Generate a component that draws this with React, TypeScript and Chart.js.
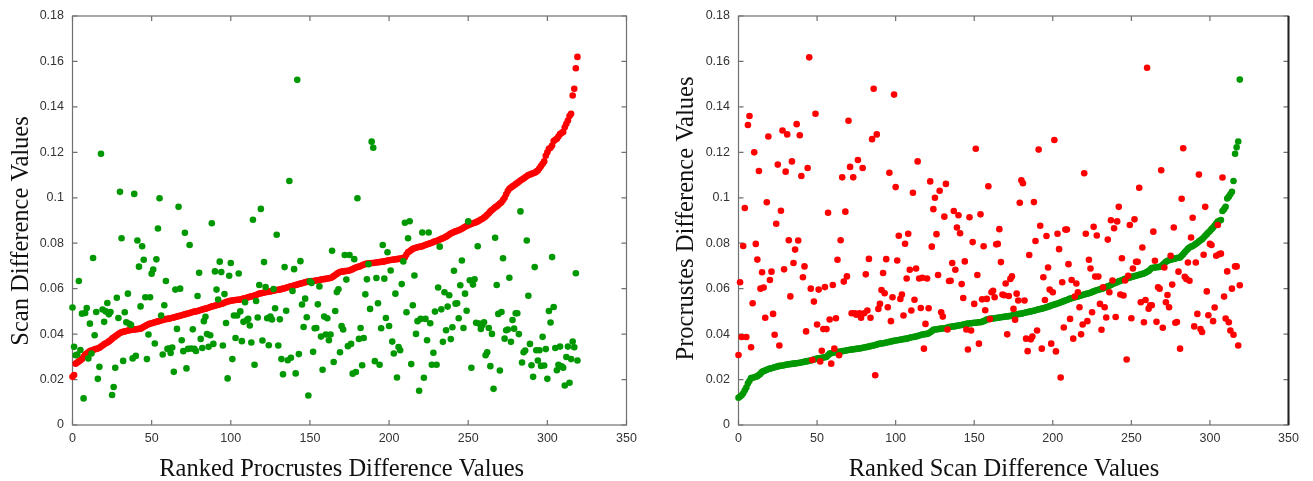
import React, { useEffect, useRef } from 'react';
import { Chart, registerables } from 'chart.js';

Chart.register(...registerables);

// ---------- tick values / labels ----------
const xTickValues = [0, 50, 100, 150, 200, 250, 300, 350];
const xTickLabels = ['0', '50', '100', '150', '200', '250', '300', '350'];
const yTickValues = [0, 0.02, 0.04, 0.06, 0.08, 0.1, 0.12, 0.14, 0.16, 0.18];
const yTickLabels = ['0', '0.02', '0.04', '0.06', '0.08', '0.1', '0.12', '0.14', '0.16', '0.18'];

const leftXTitle = 'Ranked Procrustes Difference Values';
const leftYTitle = 'Scan Difference Values';
const rightXTitle = 'Ranked Scan Difference Values';
const rightYTitle = 'Procrustes Difference Values';

// ---------- left chart: ranked by Procrustes ----------
const procrustesRanked = [
  .0212,.022,.027,.0275,.028,.0285,.029,.030,.031,.0315,
  .032,.0325,.0328,.033,.0333,.0335,.0337,.034,.0345,.035,
  .0355,.036,.0363,.0368,.0373,.038,.0385,.039,.0395,.040,
  .0405,.0408,.041,.0412,.0414,.0416,.0417,.0418,.0419,.042,
  .0421,.0422,.0423,.0424,.0428,.0432,.0436,.044,.0443,.0446,
  .0448,.045,.0452,.0454,.0456,.0458,.046,.0462,.0464,.0466,
  .0467,.0468,.047,.0472,.0473,.0475,.0477,.0479,.0481,.0483,
  .0485,.0487,.0489,.0491,.0493,.0495,.0497,.0499,.05,.0502,
  .0504,.0506,.0508,.051,.0512,.0514,.0516,.0519,.0521,.0523,
  .0525,.0527,.0529,.0531,.0533,.0535,.0538,.0541,.0543,.0545,
  .0547,.0548,.0549,.055,.0551,.0551,.0552,.0554,.0556,.0558,
  .056,.0562,.0564,.0566,.0568,.057,.0572,.0575,.0578,.058,
  .0581,.0583,.0584,.0586,.0587,.0588,.059,.0591,.0593,.0594,
  .0595,.0596,.0598,.06,.0602,.0604,.0606,.0608,.061,.0612,
  .0614,.0616,.0618,.062,.0622,.0624,.0626,.0628,.063,.0631,
  .0632,.0633,.0634,.0635,.0636,.0637,.0638,.064,.0641,.0642,
  .0643,.0645,.0646,.0647,.065,.0655,.066,.0665,.067,.0673,
  .0675,.0676,.0677,.0678,.0679,.068,.0683,.0686,.069,.0693,
  .0695,.0697,.07,.0703,.0706,.0708,.071,.0711,.0712,.0713,
  .0713,.0714,.0715,.0716,.0717,.0718,.0719,.072,.0722,.0724,
  .0725,.0726,.0727,.0728,.0729,.073,.0731,.0732,.0734,.0736,
  .0738,.075,.076,.0765,.077,.0775,.0778,.078,.0782,.0784,
  .0785,.0787,.079,.0792,.0795,.0797,.08,.0802,.0805,.0808,
  .081,.0813,.0816,.0819,.0822,.0825,.0829,.0833,.0838,.0843,
  .0846,.0849,.0852,.0855,.0857,.086,.0864,.0868,.0872,.0876,
  .0879,.0882,.0885,.0888,.089,.0892,.0896,.09,.0904,.0908,
  .0913,.0918,.0925,.0932,.094,.0946,.0952,.0958,.0962,.0968,
  .0975,.098,.099,.1,.1015,.103,.104,.1045,.105,.1055,
  .106,.1065,.107,.1076,.108,.1085,.109,.1095,.110,.1102,
  .1105,.1108,.111,.1115,.112,.113,.114,.115,.116,.1185,
  .12,.1216,.122,.123,.125,.1255,.126,.127,.128,.1285,
  .129,.131,.1326,.134,.136,.137,.145,.148,.157,.162,
];

const scanByProcrustesRank = [
  .0517,.0344,.0307,.031,.0634,.033,.049,.0117,.0493,.0515,
  .0293,.0446,.0315,.0735,.0395,.0497,.0203,.0256,.1194,.0508,
  .0454,.05,.0537,.0487,.0497,.0132,.0167,.0252,.056,.0471,
  .1026,.0822,.0282,.0496,.0452,.0578,.0445,.044,.0293,.1017,
  .0304,.0812,.0697,.0522,.0787,.0727,.0562,.029,.0398,.0562,
  .0666,.0684,.0359,.0729,.0865,.0998,.0482,.031,.0527,.0634,
  .0335,.0337,.0317,.0341,.0234,.0596,.0423,.096,.06,.0373,
  .0325,.0846,.0249,.0335,.0792,.0337,.0421,.0335,.0326,.0568,
  .067,.0379,.0339,.0457,.0476,.04,.0344,.0395,.0888,.0357,
  .0676,.0596,.0552,.0719,.0673,.035,.0576,.0449,.0205,.0657,
  .0713,.029,.0482,.0383,.0482,.0667,.05,.0369,.0454,.054,
  .0461,.0467,.0438,.0363,.0903,.0265,.0546,.0473,.0616,.0951,
  .0372,.0717,.0607,.047,.0351,.0477,.0464,.0598,.0514,.0837,
  .035,.0465,.029,.0223,.0695,.0503,.0285,.1074,.0296,.059,
  .0686,.0227,.1519,.0312,.0721,.053,.0431,.0556,.0474,.013,
  .0632,.0625,.0322,.0426,.0427,.0531,.061,.0389,.0243,.0477,
  .0398,.047,.0373,.0398,.0767,.0277,.0502,.0585,.0597,.032,
  .0435,.042,.0748,.064,.0347,.0748,.0357,.0226,.073,.0233,
  .0998,.0379,.0427,.0263,.0383,.0575,.0641,.0708,.0511,.1247,
  .122,.0281,.0647,.0536,.0265,.0426,.0792,.0644,.0471,.076,
  .0436,.068,.0367,.0315,.0578,.0209,.0343,.0329,.062,.072,
  .089,.0496,.0822,.0897,.0268,.0527,.0658,.0401,.0457,.0151,
  .0467,.0847,.0208,.0467,.0373,.0847,.0448,.0265,.0318,.0499,
  .0265,.0605,.0785,.0509,.0366,.0584,.0417,.0521,.0571,.0378,
  .043,.0679,.0534,.0536,.047,.0615,.0724,.0427,.0578,.0503,
  .0896,.0637,.0252,.0618,.0641,.045,.0787,.0446,.0423,.044,
  .0452,.0307,.032,.0427,.0259,.0401,.0159,.0824,.0616,.0489,
  .024,.0497,.0734,.038,.0417,.042,.0648,.0366,.0462,.0424,
  .0492,.0492,.04,.094,.0275,.032,.0328,.0812,.0569,.0357,
  .0263,.0212,.0695,.0329,.0284,.0329,.026,.0388,.0262,.0334,
  .0203,.0502,.0451,.0739,.0519,.0339,.0241,.0265,.0345,.0258,
  .0252,.0174,.0299,.0345,.0186,.029,.0367,.0342,.0668,.0284,
];

// ---------- right chart: ranked by Scan ----------
const scanRanked = [
  .012,.0125,.0131,.014,.0153,.0165,.0183,.0195,.0207,.0208,
  .021,.0212,.0215,.022,.0226,.0234,.0237,.024,.0243,.0246,
  .0248,.025,.0252,.0254,.0256,.0258,.026,.0261,.0262,.0263,
  .0265,.0266,.0267,.0268,.0269,.027,.0271,.0272,.0273,.0274,
  .0275,.0277,.0278,.028,.0281,.0283,.0284,.0286,.0288,.029,
  .0292,.0294,.0295,.0296,.0297,.0298,.03,.0307,.0314,.0316,
  .0318,.0319,.032,.0321,.0322,.0323,.0325,.0326,.0327,.0329,
  .033,.0331,.0332,.0333,.0334,.0335,.0336,.0337,.0338,.034,
  .0341,.0342,.0344,.0345,.0347,.0349,.035,.0352,.0354,.0356,
  .0358,.0359,.036,.0361,.0363,.0364,.0366,.0367,.0369,.0371,
  .0372,.0373,.0374,.0375,.0377,.0378,.0379,.038,.0382,.0384,
  .0386,.0387,.0388,.039,.0392,.0394,.0396,.0398,.0399,.04,
  .0401,.0404,.0408,.0413,.0419,.042,.0421,.0422,.0423,.0424,
  .0425,.0426,.0427,.0429,.0431,.0432,.0433,.0434,.0435,.0437,
  .0438,.0439,.044,.0442,.0443,.0445,.0446,.0447,.0448,.0449,
  .045,.045,.0451,.0452,.0452,.0454,.0457,.046,.0464,.0466,
  .0467,.0468,.0469,.047,.0471,.0472,.0473,.0474,.0475,.0476,
  .0477,.0478,.0479,.048,.0482,.0484,.0485,.0486,.0488,.0489,
  .049,.0492,.0494,.0495,.0497,.0498,.05,.0502,.0503,.0505,
  .0507,.0509,.051,.0512,.0514,.0516,.0518,.052,.0523,.0526,
  .0528,.053,.0532,.0535,.0537,.054,.0542,.0545,.0548,.055,
  .0553,.0556,.0558,.056,.0562,.0564,.0566,.0568,.057,.0572,
  .0574,.0576,.0578,.058,.0582,.0585,.0588,.0591,.0593,.0595,
  .0597,.0599,.0601,.0604,.0607,.061,.0613,.0616,.062,.0623,
  .0626,.0629,.0632,.0635,.0637,.064,.0643,.0645,.0647,.0649,
  .0651,.0653,.0655,.0657,.0659,.0661,.0663,.0665,.0667,.067,
  .0674,.0678,.0684,.0691,.0692,.0693,.0694,.0695,.0696,.0698,
  .0705,.0712,.0718,.0723,.0725,.0727,.0729,.0731,.0733,.0735,
  .0736,.0737,.0745,.0752,.076,.0768,.0775,.0781,.0785,.0788,
  .0792,.0797,.0802,.0808,.0813,.0818,.0825,.0833,.084,.0847,
  .0854,.0862,.0869,.0878,.0887,.0895,.0899,.0902,.0942,.095,
  .096,.0997,.1005,.1015,.1026,.1074,.1194,.1222,.1248,.152,
];

const procrustesByScanRank = [
  .0308,.0628,.0387,.0788,.0955,.0387,.132,.136,.0342,.0536,
  .12,.0797,.0728,.1118,.06,.0672,.0605,.0472,.098,.127,
  .0638,.0675,.0489,.0397,.0886,.1146,.035,.0943,.1296,.0685,
  .1115,.1279,.0813,.0566,.116,.0713,.0772,.1324,.0812,.1275,
  .1096,.065,.0698,.0412,.1131,.1618,.06,.0286,.0543,.137,
  .0442,.0596,.028,.0327,.0422,.0607,.0422,.0934,.0464,.027,
  .0616,.0336,.047,.0727,.0307,.0813,.109,.0631,.0939,.0654,
  .1339,.1136,.0492,.109,.0492,.0485,.1166,.0492,.0472,.1131,
  .0492,.0663,.0504,.0731,.0472,.1258,.148,.0219,.1279,.0511,
  .0533,.0594,.0669,.058,.073,.0518,.111,.0457,.0562,.1454,
  .1047,.0724,.0833,.0555,.0574,.0482,.0798,.0645,.0842,.0683,
  .0504,.1022,.0551,.0689,.116,.0645,.0515,.0648,.0336,.0445,
  .0645,.0514,.1072,.0785,.095,.1,.084,.066,.1031,.0496,
  .0477,.0917,.1061,.042,.0634,.0635,.0713,.0942,.0683,.0869,
  .0923,.0844,.062,.0559,.072,.042,.0332,.0914,.0416,.0805,
  .0533,.1216,.066,.0358,.0927,.0553,.0787,.0505,.0555,.1051,
  .0466,.0584,.0591,.0562,.0795,.0797,.0862,.0717,.0574,.0571,
  .0623,.0399,.0568,.0643,.0654,.0511,.0463,.0578,.0548,.0978,
  .1077,.1064,.0548,.038,.0325,.0748,.0377,.0389,.0981,.081,
  .0416,.1212,.0877,.0336,.065,.055,.0832,.0693,.0596,.0358,
  .0584,.1254,.0324,.0842,.0774,.0209,.0628,.0429,.086,.086,
  .0708,.0467,.0638,.038,.0565,.0623,.0584,.0518,.0399,.0442,
  .1108,.0842,.0457,.0727,.0689,.0496,.0872,.0653,.0834,.0653,
  .0533,.0419,.0606,.0518,.0473,.0816,.0584,.0901,.0636,.0866,
  .0475,.0896,.096,.0574,.0734,.057,.0636,.0288,.0657,.088,
  .047,.0689,.0905,.0718,.0718,.1044,.054,.0781,.0452,.055,
  .1572,.0512,.0527,.0527,.0851,.0723,.0454,.0606,.06,.1121,
  .0428,.0693,.054,.0572,.0518,.0745,.0618,.0869,.045,.0453,
  .0675,.0336,.0996,.1218,.0652,.0643,.0715,.0635,.0825,.0912,
  .0434,.0715,.0489,.1102,.0422,.0409,.0749,.096,.0588,.0483,
  .0797,.0792,.0457,.0517,.0745,.088,.0752,.0754,.1089,.0565,
  .0469,.0676,.0452,.0416,.06,.0397,.0698,.0698,.035,.0615,
];

const GREEN = 'rgb(0,152,0)';
const RED = 'rgb(255,0,0)';
const H = 481;

function toPoints(values: number[]) {
  return values.map((v, i) => ({ x: i, y: v }));
}

const frameTicksPlugin = {
  id: 'frameTicks',
  beforeDatasetsDraw(chart: any, _args: any, opts: any) {
    const { ctx, chartArea } = chart;
    const { left, right, top, bottom } = chartArea;
    const xs = chart.scales.x;
    const ys = chart.scales.y;
    ctx.save();
    ctx.strokeStyle = opts.color;
    ctx.lineWidth = opts.width;
    ctx.beginPath();
    xs.ticks.forEach((t: any) => {
      const p = xs.getPixelForValue(t.value);
      ctx.moveTo(p, bottom);
      ctx.lineTo(p, bottom - opts.len);
      ctx.moveTo(p, top);
      ctx.lineTo(p, top + opts.len);
    });
    ys.ticks.forEach((t: any) => {
      const p = ys.getPixelForValue(t.value);
      ctx.moveTo(left, p);
      ctx.lineTo(left + opts.len, p);
      ctx.moveTo(right, p);
      ctx.lineTo(right - opts.len, p);
    });
    ctx.stroke();
    ctx.strokeRect(left, top, right - left, bottom - top);
    if (opts.rightEdgeColor) {
      ctx.strokeStyle = opts.rightEdgeColor;
      ctx.lineWidth = opts.rightEdgeWidth;
      ctx.beginPath();
      ctx.moveTo(right, top);
      ctx.lineTo(right, bottom);
      ctx.stroke();
    }
    ctx.restore();
  },
  afterDraw(chart: any, _args: any, opts: any) {
    const { ctx } = chart;
    ctx.save();
    ctx.fillStyle = '#111';
    ctx.font = `${opts.titleSize}px "Liberation Serif", "Times New Roman", serif`;
    ctx.textAlign = 'center';
    ctx.textBaseline = 'alphabetic';
    ctx.fillText(opts.xTitle, opts.xTitleX, opts.xTitleY);
    ctx.translate(opts.yTitleX, opts.yTitleY);
    ctx.rotate(-Math.PI / 2);
    ctx.fillText(opts.yTitle, 0, 0);
    ctx.restore();
  },
};

type PanelSpec = {
  width: number;
  padTop: number;
  padRight: number;
  yAxisWidth: number;
  curve: number[];
  curveColor: string;
  scatter: number[];
  scatterColor: string;
  xTitle: string;
  yTitle: string;
  xTitleX: number;
  yTitleX: number;
  yTitleY: number;
  rightEdgeColor?: string;
};

function makeConfig(s: PanelSpec): any {
  const tickFont = { family: '"Liberation Sans", Arial, sans-serif', size: 12.5 };
  return {
    type: 'scatter',
    data: {
      datasets: [
        {
          data: toPoints(s.scatter),
          pointRadius: 3.3,
          pointBorderWidth: 0,
          pointBackgroundColor: s.scatterColor,
          backgroundColor: s.scatterColor,
          borderColor: s.scatterColor,
          clip: false,
        },
        {
          data: toPoints(s.curve),
          pointRadius: 3.3,
          pointBorderWidth: 0,
          pointBackgroundColor: s.curveColor,
          backgroundColor: s.curveColor,
          borderColor: s.curveColor,
          clip: false,
        },
      ],
    },
    options: {
      animation: false,
      responsive: false,
      events: [],
      layout: { padding: { left: 0, right: s.padRight, top: s.padTop, bottom: 0 } },
      plugins: {
        legend: { display: false },
        tooltip: { enabled: false },
        frameTicks: {
          color: '#707070',
          width: 1.2,
          len: 5,
          rightEdgeColor: s.rightEdgeColor,
          rightEdgeWidth: 2,
          titleSize: 24.5,
          xTitle: s.xTitle,
          yTitle: s.yTitle,
          xTitleX: s.xTitleX,
          xTitleY: 476,
          yTitleX: s.yTitleX,
          yTitleY: s.yTitleY,
        },
      },
      scales: {
        x: {
          type: 'linear',
          min: 0,
          max: 350,
          grid: { display: false, drawTicks: false },
          border: { display: false },
          afterBuildTicks: (scale: any) => {
            scale.ticks = xTickValues.map((v) => ({ value: v }));
          },
          afterFit: (scale: any) => {
            scale.height = H - 425;
          },
          ticks: {
            autoSkip: false,
            maxRotation: 0,
            padding: 6,
            color: '#333',
            font: tickFont,
            callback: (_v: any, i: number) => xTickLabels[i],
          },
        },
        y: {
          type: 'linear',
          min: 0,
          max: 0.18,
          grid: { display: false, drawTicks: false },
          border: { display: false },
          afterBuildTicks: (scale: any) => {
            scale.ticks = yTickValues.map((v) => ({ value: v }));
          },
          afterFit: (scale: any) => {
            scale.width = s.yAxisWidth;
          },
          ticks: {
            autoSkip: false,
            padding: 8.5,
            color: '#333',
            font: tickFont,
            callback: (_v: any, i: number) => yTickLabels[i],
          },
        },
      },
    },
    plugins: [frameTicksPlugin],
  };
}

const leftSpec: PanelSpec = {
  width: 656,
  padTop: 15,
  padRight: 29.5,
  yAxisWidth: 72.5,
  curve: procrustesRanked,
  curveColor: RED,
  scatter: scanByProcrustesRank,
  scatterColor: GREEN,
  xTitle: leftXTitle,
  yTitle: leftYTitle,
  xTitleX: 341.7,
  yTitleX: 28,
  yTitleY: 231,
};

const rightSpec: PanelSpec = {
  width: 657,
  padTop: 14,
  padRight: 24.5,
  yAxisWidth: 82.5,
  curve: scanRanked,
  curveColor: GREEN,
  scatter: procrustesByScanRank,
  scatterColor: RED,
  xTitle: rightXTitle,
  yTitle: rightYTitle,
  xTitleX: 348,
  yTitleX: 37,
  yTitleY: 218.5,
  rightEdgeColor: '#222',
};

export default function App() {
  const leftRef = useRef<HTMLCanvasElement | null>(null);
  const rightRef = useRef<HTMLCanvasElement | null>(null);

  useEffect(() => {
    const c1 = new Chart(leftRef.current as HTMLCanvasElement, makeConfig(leftSpec));
    const c2 = new Chart(rightRef.current as HTMLCanvasElement, makeConfig(rightSpec));
    return () => {
      c1.destroy();
      c2.destroy();
    };
  }, []);

  return (
    <div style={{ position: 'absolute', left: 0, top: 0, width: 1313, height: H, background: '#fff' }}>
      <canvas
        ref={leftRef}
        width={leftSpec.width}
        height={H}
        style={{ position: 'absolute', left: 0, top: 0, width: leftSpec.width, height: H, display: 'block' }}
      />
      <canvas
        ref={rightRef}
        width={rightSpec.width}
        height={H}
        style={{ position: 'absolute', left: 656, top: 0, width: rightSpec.width, height: H, display: 'block' }}
      />
    </div>
  );
}
